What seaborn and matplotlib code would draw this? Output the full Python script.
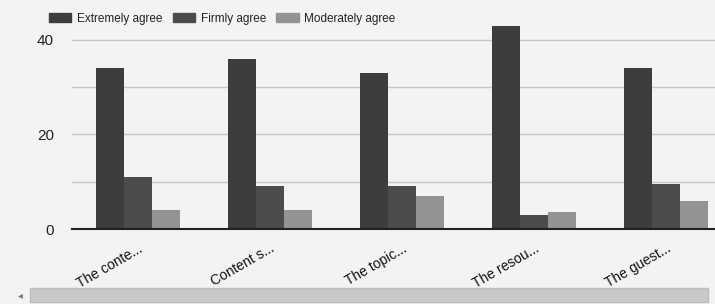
import matplotlib
matplotlib.use("Agg")
import matplotlib.pyplot as plt
import seaborn as sns
import pandas as pd
from matplotlib.patches import Rectangle

categories = ["The conte...", "Content s...", "The topic...", "The resou...", "The guest..."]
series = ["Extremely agree", "Firmly agree", "Moderately agree"]
extremely = [34, 36, 33, 43, 34]
firmly = [11, 9, 9, 3, 9.5]
moderately = [4, 4, 7, 3.5, 6]
colors = ["#3b3e3b", "#4a4b4a", "#939393"]

rows = []
for name, vals in zip(series, [extremely, firmly, moderately]):
    for c, v in zip(categories, vals):
        rows.append({"cat": c, "series": name, "value": v})
df = pd.DataFrame(rows)

sns.set_style("white")
plt.rcParams["font.family"] = ["Liberation Sans", "DejaVu Sans"]

bg = "#f3f3f3"
fig = plt.figure(figsize=(7.15, 3.04), dpi=100, facecolor=bg)
ax = fig.add_axes([0.1007, 0.2467, 0.8993, 0.6995])
ax.set_facecolor(bg)

sns.barplot(data=df, x="cat", y="value", hue="series", hue_order=series,
            palette=colors, width=0.64, gap=0, saturation=1, ax=ax,
            legend=False, linewidth=0)

ax.set_xlim(-0.5, 4.37)
ax.set_ylim(0, 45)
ax.set_yticks([0, 20, 40])
ax.set_yticks([10, 30], minor=True)
ax.grid(axis="y", which="both", color="#c4c4c4", linewidth=1)
ax.set_axisbelow(True)
for s in ["top", "right", "left"]:
    ax.spines[s].set_visible(False)
ax.spines["bottom"].set_color("#222222")
ax.spines["bottom"].set_linewidth(1.5)
ax.set_xlabel("")
ax.set_ylabel("")
ax.tick_params(axis="y", length=0, labelsize=11, pad=13, labelcolor="#222222")
ax.tick_params(axis="y", which="minor", length=0)
ax.tick_params(axis="x", length=0, pad=9)
ax.set_xticks(range(len(categories)))
ax.set_xticklabels(categories, rotation=30, ha="right", rotation_mode="anchor",
                   fontsize=10, color="#111111")

# legend
handles = [Rectangle((0, 0), 1, 1, color=c) for c in colors]
fig.legend(handles, series, loc="upper left", bbox_to_anchor=(0.057, 0.985),
           ncol=3, frameon=False, fontsize=8.5, handlelength=1.9, handleheight=0.8,
           handletextpad=0.45, columnspacing=0.9, labelcolor="#222222",
           borderaxespad=0.3)

# scrollbar decoration
fig.patches.append(Rectangle((0.042, 0.008), 0.948, 0.045, transform=fig.transFigure,
                             facecolor="#c9c9c9", edgecolor="#bdbdbd"))
fig.text(0.025, 0.03, "◂", fontsize=7, color="#777777", va="center",
         family=["DejaVu Sans"])

fig.savefig("out.png", dpi=100, facecolor=bg)
